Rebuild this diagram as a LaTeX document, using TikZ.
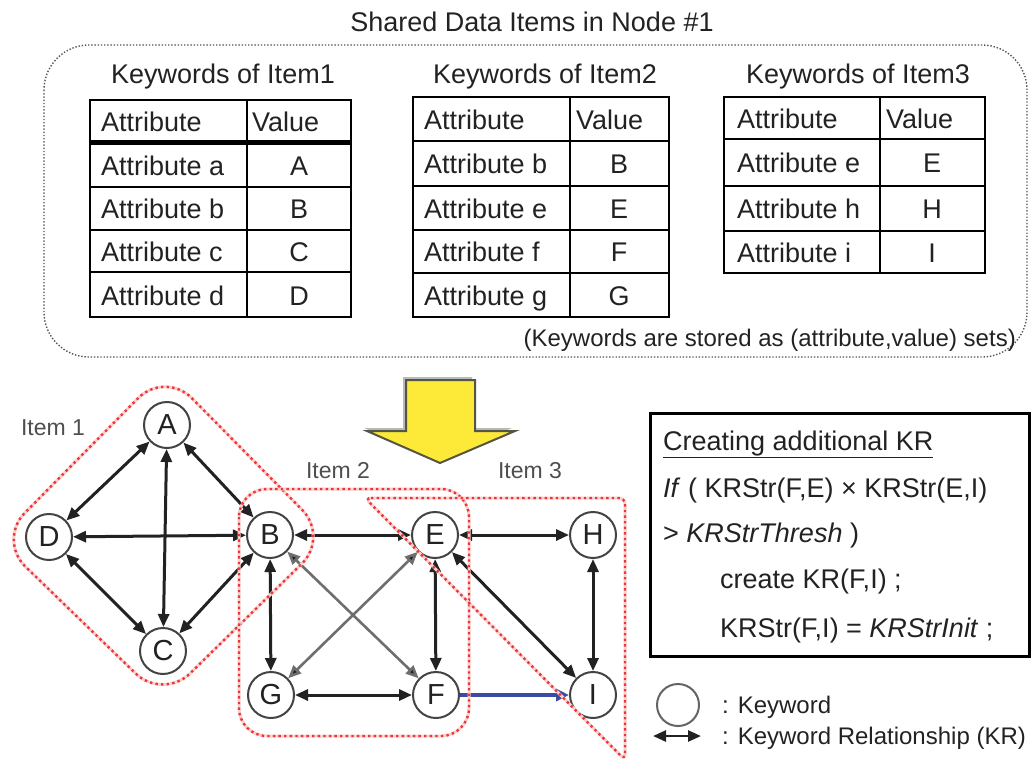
\documentclass[tikz,border=0pt]{standalone}
\usepackage{fontspec}
\setmainfont{Liberation Sans}
\usetikzlibrary{arrows.meta}
\definecolor{ink}{HTML}{222222}
\definecolor{edgegray}{HTML}{6E6E6E}
\definecolor{itemred}{HTML}{EE3535}
\definecolor{itempink}{HTML}{F9D0D0}
\definecolor{arrowyellow}{HTML}{FCE938}
\definecolor{arrowrim}{HTML}{555544}
\definecolor{krblue}{HTML}{3B4BA3}
\definecolor{framegray}{HTML}{555555}
\newcommand{\bigtext}{\fontsize{27}{32}\selectfont}
\newcommand{\midtext}{\fontsize{24}{28}\selectfont}
\newcommand{\labtext}{\fontsize{23}{27}\selectfont}
\begin{document}
\begin{tikzpicture}[x=1pt,y=-1pt,
  kw/.style={circle,draw=ink!85,line width=2pt,fill=white,minimum size=46pt,inner sep=0pt,
    font=\fontsize{29}{33}\selectfont,text=ink},
  kr/.style={draw=ink,line width=3pt,{Triangle[length=13pt,width=11pt]}-{Triangle[length=13pt,width=11pt]}},
  krgray/.style={kr,draw=edgegray,line width=2.6pt,{Triangle[length=13pt,width=11pt,fill=ink]}-{Triangle[length=13pt,width=11pt,fill=ink]}},
  krnew/.style={draw=krblue,line width=4.5pt,-{Triangle[length=13pt,width=12pt]}},
  itembox/.style={preaction={draw=itempink,line width=3pt},draw=itemred,line width=2.4pt,
    dash pattern=on 2.4pt off 3.2pt},
  framebox/.style={draw=framegray,line width=1.4pt,dash pattern=on 1.4pt off 1.8pt},
  tblline/.style={draw=black,line width=2.8pt},
  cell/.style={font=\bigtext,text=ink,inner sep=0pt},
  itemlabel/.style={font=\labtext,text=ink!80,inner sep=0pt}
]
\useasboundingbox (0,0) rectangle (1032,763);

% ---------- upper part: keyword tables ----------
\node[font=\bigtext,text=ink] (title) at (532,22) {Shared Data Items in Node \#1};
\draw[framebox,rounded corners=45pt] (44,45) rectangle (1027,357);

% table of item 1
\node[cell] (h1) at (223,77) {Keywords of Item1};
\draw[tblline] (90,100) rectangle (351,317);
\draw[tblline] (247,100) -- (247,317);
\draw[draw=black,line width=5pt] (90,142.5) -- (351,142.5);
\foreach \y in {187,230,272} \draw[tblline] (90,\y) -- (351,\y);
\node[cell,anchor=base west] (t1a) at (101,131) {Attribute};
\node[cell,anchor=base west] (t1v) at (252,131) {Value};
\foreach \r/\yc/\a/\v in {1/165/a/A,2/208/b/B,3/251/c/C,4/295/d/D}{
  \node[cell,anchor=base west] (t1a\r) at (101,\yc+10) {Attribute \a};
  \node[cell,anchor=base] (t1v\r) at (299,\yc+10) {\v};
}

% table of item 2
\node[cell] (h2) at (545,77) {Keywords of Item2};
\draw[tblline] (413,97) rectangle (669,317);
\draw[tblline] (570,97) -- (570,317);
\foreach \y in {141,186,230,273} \draw[tblline] (413,\y) -- (669,\y);
\node[cell,anchor=base west] (t2a) at (424,129) {Attribute};
\node[cell,anchor=base west] (t2v) at (576,129) {Value};
\foreach \r/\yc/\a/\v in {1/163/b/B,2/208/e/E,3/251/f/F,4/295/g/G}{
  \node[cell,anchor=base west] (t2a\r) at (424,\yc+10) {Attribute \a};
  \node[cell,anchor=base] (t2v\r) at (619,\yc+10) {\v};
}

% table of item 3
\node[cell] (h3) at (858,77) {Keywords of Item3};
\draw[tblline] (724,97) rectangle (985,273);
\draw[tblline] (880,97) -- (880,273);
\foreach \y in {139,186,231} \draw[tblline] (724,\y) -- (985,\y);
\node[cell,anchor=base west] (t3a) at (737,128) {Attribute};
\node[cell,anchor=base west] (t3v) at (886,128) {Value};
\foreach \r/\yc/\a/\v in {1/162/e/E,2/208/h/H,3/252/i/I}{
  \node[cell,anchor=base west] (t3a\r) at (737,\yc+10) {Attribute \a};
  \node[cell,anchor=base] (t3v\r) at (932,\yc+10) {\v};
}

\node[font=\midtext,text=ink,anchor=east,inner sep=0pt] (note) at (1016,340)
  {(Keywords are stored as (attribute,value) sets)};

% ---------- big downward arrow ----------
\path[fill=gray!55] (403,377) -- (472,377) -- (472,428) -- (512,428) -- (437,460)
  -- (364,428) -- (403,428) -- cycle;
\draw[fill=arrowyellow,draw=arrowrim,line width=2pt] (406,380) -- (475,380) -- (475,431)
  -- (515,431) -- (440,463) -- (367,431) -- (406,431) -- cycle;

% ---------- keyword graph ----------
\node[kw] (A) at (167,425) {A};
\node[kw] (D) at (49,537) {D};
\node[kw] (B) at (270,535) {B};
\node[kw] (C) at (163,651) {C};
\node[kw] (E) at (435,535) {E};
\node[kw] (H) at (593,535) {H};
\node[kw] (G) at (271,695) {G};
\node[kw] (F) at (436,695) {F};
\node[kw] (I) at (593,695) {I};

\draw[kr] (A) -- (D);
\draw[kr] (A) -- (B);
\draw[kr] (A) -- (C);
\draw[kr] (D) -- (B);
\draw[kr] (D) -- (C);
\draw[kr] (B) -- (C);
\draw[kr] (B) -- (E);
\draw[kr] (B) -- (G);
\draw[kr] (E) -- (F);
\draw[kr] (G) -- (F);
\draw[kr] (E) -- (H);
\draw[kr] (E) -- (I);
\draw[kr] (H) -- (I);
\draw[krgray] (B) -- (F);
\draw[krgray] (E) -- (G);
\draw[krnew] (F) -- (I);

% item groupings
\draw[itembox,rounded corners=38pt] (165,371) -- (329,537) -- (163,700) -- (-2,540) -- cycle;
\draw[itembox,rounded corners=28pt] (239,489) rectangle (469,736);
\draw[itembox,rounded corners=6pt] (365,498) -- (625,498) -- (625,760) -- cycle;

\node[itemlabel] (L1) at (53,428) {Item 1};
\node[itemlabel] (L2) at (338,471) {Item 2};
\node[itemlabel] (L3) at (530,471) {Item 3};

% ---------- rule for the additional relationship ----------
\node[draw=black,line width=3pt,minimum width=379pt,minimum height=243pt,anchor=north west]
  (rule) at (649,412) {};
\node[cell,anchor=base west] (r1) at (663,450) {\underline{Creating additional KR}};
\node[cell,anchor=base west] (r2) at (663,497) {\textit{If} ( KRStr(F,E) × KRStr(E,I)};
\node[cell,anchor=base west] (r3) at (663,542) {> \textit{KRStrThresh} )};
\node[cell,anchor=base west] (r4) at (720,588) {create KR(F,I) ;};
\node[cell,anchor=base west] (r5) at (720,637) {KRStr(F,I) = \textit{KRStrInit} ;};

% ---------- legend ----------
\node[kw,minimum size=42pt,draw=ink!70] (lgc) at (678,705) {};
\node[font=\midtext,text=ink,anchor=west,inner sep=0pt] (lgk) at (722,707) {: Keyword};
\coordinate (lga) at (653,736);
\coordinate (lgb) at (701,736);
\draw[kr,line width=2.6pt] (lga) -- (lgb);
\node[font=\midtext,text=ink,anchor=west,inner sep=0pt] (lgr) at (722,738) {: Keyword Relationship (KR)};
\end{tikzpicture}
\end{document}
